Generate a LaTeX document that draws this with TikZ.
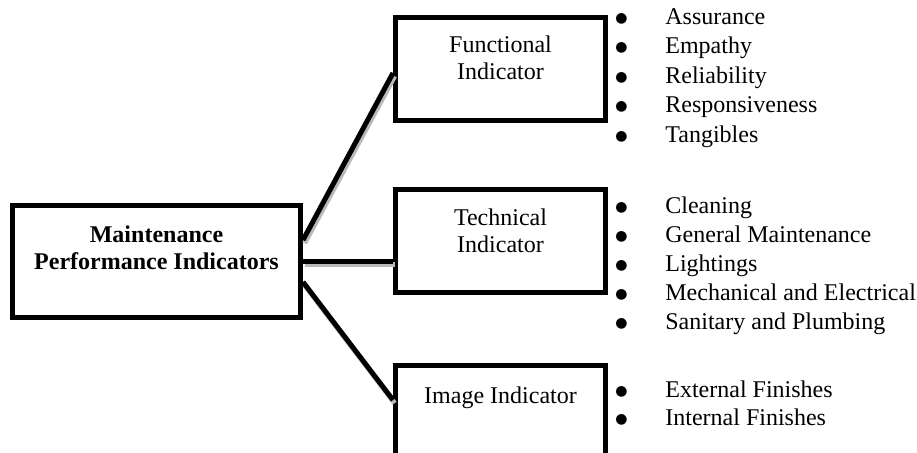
\documentclass[tikz,border=0pt]{standalone}
\usepackage{fontspec}
\setmainfont{Liberation Serif}
\newfontfamily\bulfont{DejaVu Sans}
\usetikzlibrary{positioning}
\newcommand{\itembul}{\makebox[25pt][l]{\raisebox{1pt}{\bulfont\fontsize{7}{7}\selectfont ●}}}

\begin{document}
\begin{tikzpicture}[x=0.5pt, y=-0.5pt,
  box/.style={draw, line width=2.5pt, inner sep=0pt,
    minimum width=105pt, minimum height=51.5pt},
  boxtxt/.style={align=center, inner sep=0pt,
    font=\fontsize{12}{13.5}\selectfont},
  link/.style={line width=2.5pt,
    preaction={draw=gray!55, line width=2.5pt,
      transform canvas={shift={(0.8pt,-1.6pt)}}}},
  item/.style={anchor=base west, inner sep=0pt,
    font=\fontsize{12}{14}\selectfont}]
\useasboundingbox (0,0) rectangle (917,452);
\clip (0,0) rectangle (917,452);

\node[box, minimum width=144pt, minimum height=56pt] (main) at (156.5,261.5) {};
\node[box] (func) at (500.5,69) {};
\node[box] (tech) at (500.5,241) {};
\node[box] (img) at (500.5,417) {};

\node[boxtxt, font=\fontsize{12}{13.5}\selectfont\bfseries, below=11pt of main.north] (maintxt)
  {Maintenance\\Performance Indicators};
\node[boxtxt, below=10pt of func.north] (functxt) {Functional\\Indicator};
\node[boxtxt, below=10.5pt of tech.north] (techtxt) {Technical\\Indicator};
\node[boxtxt, below=11.5pt of img.north] (imgtxt) {Image Indicator};

\draw[link] ([yshift=10.75pt]main.east) -- ([yshift=-2pt]func.west);
\draw[link] (main.east) -- (main.east -| tech.west);
\draw[link] ([yshift=-10.25pt]main.east) -- ([yshift=-18.5pt]img.north west);

% bullet lists
\foreach \txt [count=\i from 0] in {Assurance, Empathy, Reliability, Responsiveness, Tangibles}
  \node[item] (fun\i) at (615, 24+29.5*\i) {\itembul\txt};
\foreach \txt [count=\i from 0] in {Cleaning, General Maintenance, Lightings,
    Mechanical and Electrical, Sanitary and Plumbing}
  \node[item] (tec\i) at (615, 213+29.2*\i) {\itembul\txt};
\foreach \txt [count=\i from 0] in {External Finishes, Internal Finishes}
  \node[item] (ima\i) at (615, 397+28.5*\i) {\itembul\txt};
\end{tikzpicture}
\end{document}
